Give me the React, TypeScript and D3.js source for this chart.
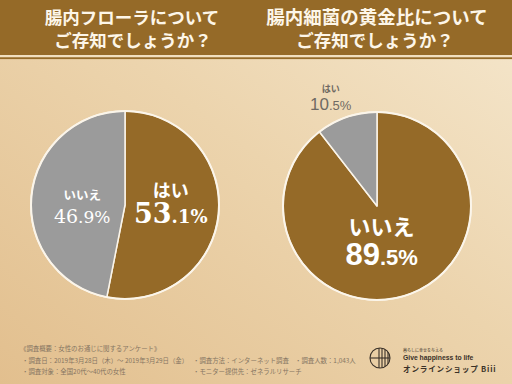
import React from 'react';
import * as d3 from 'd3';

// answers, same order in both pies: brown slice first, clockwise from 12 o'clock
const floraLabels = ['はい', 'いいえ'];
const floraValues = [53.1, 46.9];
const ratioLabels = ['いいえ', 'はい'];
const ratioValues = [89.5, 10.5];

const titles = [
  ['腸内フローラについて', 'ご存知でしょうか？'],
  ['腸内細菌の黄金比について', 'ご存知でしょうか？'],
];

const notes = [
  '《調査概要：女性のお通じに関するアンケート》',
  '・調査日：2019年3月28日（木）〜 2019年3月29日（金）',
  '・調査対象：全国20代〜40代の女性',
  '・調査方法：インターネット調査',
  '・モニター提供先：ゼネラルリサーチ',
  '・調査人数：1,043人',
];

const BROWN = '#956a28';
const GRAY = '#9b9b9b';
const JP = '"Noto Sans CJK JP", "Noto Sans", sans-serif';

interface LabelStyle {
  r: number;
  dx: number;
  nameY: number;
  numY: number;
  name: number;
  big: number;
  small: number;
  color: string;
  numFont: string;
  weight: number;
}

interface PieProps {
  cx: number;
  cy: number;
  labels: string[];
  values: number[];
  styles: LabelStyle[];
}

const radius = 94;

const Pie: React.FC<PieProps> = ({ cx, cy, labels, values, styles }) => {
  const data = values.map((v, i) => ({ label: labels[i], value: v }));
  const pie = d3.pie<{ label: string; value: number }>().sort(null).value((d) => d.value);
  const arcs = pie(data);
  const arc = d3.arc<d3.PieArcDatum<{ label: string; value: number }>>().innerRadius(0).outerRadius(radius);
  const colors = [BROWN, GRAY];

  return (
    <g transform={`translate(${cx},${cy})`}>
      {arcs.map((a, i) => (
        <path key={i} d={arc(a) || ''} fill={colors[i]} stroke="#fbf5ea" strokeWidth={1.5} strokeLinejoin="round" />
      ))}
      <circle r={radius} fill="none" stroke="#fbf5ea" strokeWidth={2} />
      {arcs.map((a, i) => {
        const s = styles[i];
        const la = d3.arc<d3.PieArcDatum<any>>().innerRadius(s.r).outerRadius(s.r);
        const [x, y] = la.centroid(a);
        const [whole, frac] = a.data.value.toFixed(1).split('.');
        return (
          <g key={'l' + i} transform={`translate(${x + s.dx},${y})`} fill={s.color} textAnchor="middle">
            <text y={s.nameY} fontFamily={JP} fontWeight={700} fontSize={s.name}>
              {a.data.label}
            </text>
            <text y={s.numY} fontFamily={s.numFont} fontWeight={s.weight} fontSize={s.big}>
              {whole}
              <tspan fontSize={s.small}>.{frac}%</tspan>
            </text>
          </g>
        );
      })}
    </g>
  );
};

const App: React.FC = () => {
  const leftStyles: LabelStyle[] = [
    { r: 48, dx: -2, nameY: -13, numY: 13, name: 18, big: 27, small: 18, color: '#ffffff', numFont: '"DejaVu Serif", serif', weight: 700 },
    { r: 43, dx: 0, nameY: -1, numY: 22, name: 12.5, big: 19, small: 17, color: '#ffffff', numFont: '"DejaVu Serif", serif', weight: 400 },
  ];
  const rightStyles: LabelStyle[] = [
    { r: 42, dx: -9, nameY: -11, numY: 19, name: 22, big: 31, small: 22, color: '#ffffff', numFont: '"Liberation Sans", Arial, sans-serif', weight: 700 },
    { r: 112, dx: -10, nameY: -8, numY: 10, name: 9, big: 17, small: 13, color: '#6f6a63', numFont: '"Liberation Sans", Arial, sans-serif', weight: 400 },
  ];

  return (
    <svg width={512} height={384} style={{ position: 'absolute', left: 0, top: 0 }}>
      <defs>
        <linearGradient id="paper" x1="0" y1="1" x2="1" y2="0">
          <stop offset="0" stopColor="#e2bf8e" />
          <stop offset="0.55" stopColor="#ecd4ad" />
          <stop offset="1" stopColor="#f5e7cd" />
        </linearGradient>
      </defs>
      <rect width={512} height={384} fill="url(#paper)" />

      {/* header band */}
      <rect width={512} height={55} fill={BROWN} />
      <rect y={55} width={512} height={2.3} fill="#f1dfbf" />
      <rect y={57.3} width={512} height={1.8} fill={BROWN} />
      {titles.map((t, i) => (
        <g key={i} fill="#fdf6e8" fontFamily={JP} fontWeight={700} textAnchor="middle">
          <text x={i === 0 ? 132 : 377} y={24} fontSize={i === 0 ? 17.5 : 18.5}>{t[0]}</text>
          <text x={i === 0 ? 133 : 375} y={46.5} fontSize={17.5}>{t[1]}</text>
        </g>
      ))}

      <Pie cx={125} cy={205} labels={floraLabels} values={floraValues} styles={leftStyles} />
      <Pie cx={377} cy={206} labels={ratioLabels} values={ratioValues} styles={rightStyles} />

      {/* survey notes */}
      <g fill="#857562" fontFamily={JP} fontSize={6.4}>
        <text x={20} y={351}>{notes[0]}</text>
        <text x={22} y={363}>{notes[1]}</text>
        <text x={22} y={374}>{notes[2]}</text>
        <text x={193} y={363}>{notes[3]}</text>
        <text x={193} y={374}>{notes[4]}</text>
        <text x={295} y={363}>{notes[5]}</text>
      </g>

      {/* shop logo */}
      <g stroke="#3a3128" strokeWidth={1.1} fill="none">
        <circle cx={380} cy={358} r={10} />
        <line x1={370} y1={358} x2={390} y2={358} />
        <line x1={379} y1={348} x2={379} y2={368} />
        <line x1={382} y1={348.5} x2={382} y2={367.5} />
        <line x1={385} y1={349.5} x2={385} y2={366.5} />
        <line x1={388} y1={352} x2={388} y2={364} />
      </g>
      <g fill="#3a3128">
        <text x={403} y={352} fontFamily={JP} fontSize={4}>暮らしに幸せを与える</text>
        <text x={403} y={360} fontFamily='"Liberation Sans", Arial, sans-serif' fontWeight={700} fontSize={6.8}>Give happiness to life</text>
        <text x={403} y={372} fontFamily={JP} fontWeight={700} fontSize={7.6} letterSpacing={0.8}>オンラインショップ Biii</text>
      </g>
    </svg>
  );
};

export default App;
